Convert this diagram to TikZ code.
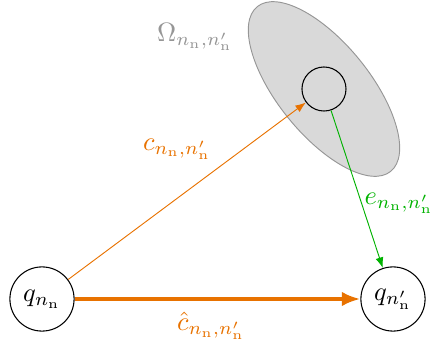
\documentclass[tikz,border=0pt]{standalone}
\usetikzlibrary{arrows.meta,shapes.geometric}
\definecolor{myorange}{RGB}{232,114,0}
\definecolor{mygreen}{RGB}{0,178,0}
\definecolor{mygray}{RGB}{150,150,150}
\definecolor{myfill}{RGB}{217,217,217}
\begin{document}
\begin{tikzpicture}[x=0.377pt,y=-0.377pt,
  state/.style={circle,draw,minimum size=24.2pt,inner sep=0pt},
  inner/.style={circle,draw,minimum size=16.6pt,inner sep=0pt},
  thinarrow/.style={-{Latex[length=4pt,width=3pt]},line width=0.35pt}]
\useasboundingbox (0,0) rectangle (432,347);
\draw[mygray,fill=myfill,line width=0.35pt,rotate around={-51:(324,89)}] (324,89) ellipse [x radius=106,y radius=46];
\node[state] (q1) at (42,299) {$q_{n_\mathrm{n}}$};
\node[state] (q2) at (393,299) {$q_{n'_\mathrm{n}}$};
\node[inner] (w) at (324,89) {};
\node[mygray] (om) at (195,37) {$\Omega_{n_\mathrm{n},n'_\mathrm{n}}$};
\draw[thinarrow,myorange] (q1) -- (w);
\node[myorange,inner sep=1pt] (cl) at (177,149) {$c_{n_\mathrm{n},n'_\mathrm{n}}$};
\draw[thinarrow,mygreen] (w) -- (q2);
\node[mygreen,inner sep=1pt] (el) at (399,203) {$e_{n_\mathrm{n},n'_\mathrm{n}}$};
\draw[myorange,line width=1.6pt,-{Latex[length=7pt,width=5.5pt]}] (q1) -- (q2);
\node[myorange,inner sep=1pt] (chl) at (211,326) {$\hat{c}_{n_\mathrm{n},n'_\mathrm{n}}$};
\end{tikzpicture}
\end{document}
